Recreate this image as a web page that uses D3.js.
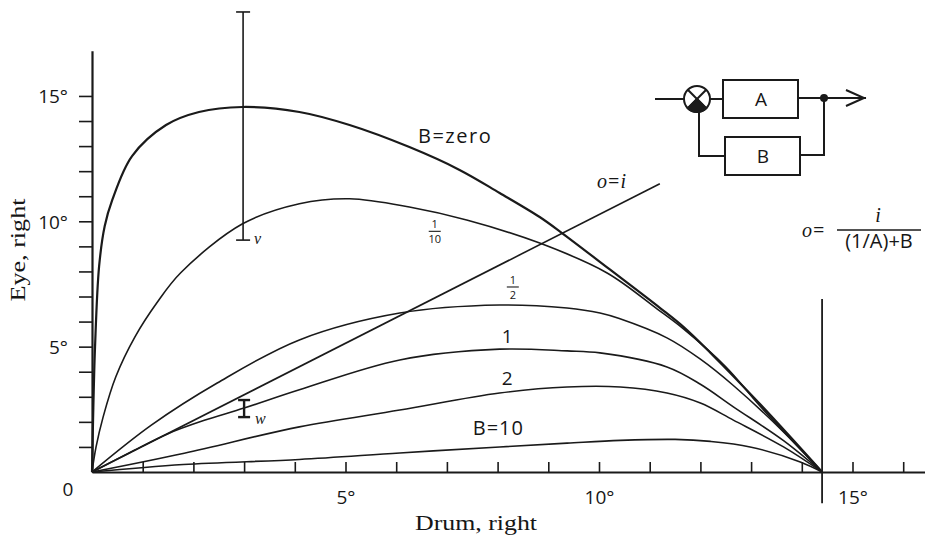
<!DOCTYPE html>
<html>
<head>
<meta charset="utf-8">
<script src="https://cdn.jsdelivr.net/npm/d3@7/dist/d3.min.js"></script>
<style>
  body { margin: 0; background: #fff; }
  text { fill: #161616; }
</style>
</head>
<body>
<div id="chart"></div>
<script>
// curves, [drum deg, eye deg]
const bZero = [[0,0],[0.02,2],[0.06,5],[0.14,8.2],[0.25,9.8],[0.4,10.85],[0.79,12.6],[1.46,13.84],[2.11,14.36],[2.97,14.56],[4.09,14.36],[5.08,13.84],[6.26,12.96],[7.25,12.05],[8.04,11.13],[8.83,10.17],[9.27,9.53],[10.2,8.1],[11.2,6.55],[11.66,5.8],[12.2,4.75],[13.18,2.7],[14.4,0]];
const bTenth = [[0,0],[0.08,1.0],[0.22,2.2],[0.47,3.8],[0.85,5.4],[1.28,6.75],[1.75,7.95],[2.97,9.9],[4.09,10.7],[5.08,10.9],[6.26,10.57],[7.39,10.05],[8.83,9.13],[10.16,7.94],[11.15,6.5],[11.66,5.72],[12.5,4.2],[13.18,2.62],[14.4,0]];
const bHalf = [[0,0],[1.17,1.87],[2.47,3.55],[4.09,5.27],[6.07,6.34],[8.04,6.66],[9.37,6.54],[10.02,6.34],[10.4,6.12],[11.34,5.35],[12.0,4.5],[12.65,3.45],[13.64,1.6],[14.4,0]];
const bOne = [[0,0],[0.75,0.78],[1.5,1.53],[2.2,2.05],[3.0,2.55],[4.09,3.28],[6.07,4.47],[8.04,4.9],[9.37,4.83],[10.02,4.75],[11.34,4.19],[12.0,3.5],[12.65,2.6],[13.64,1.25],[14.4,0]];
const bTwo = [[0,0],[1.82,0.75],[4.09,1.8],[6.07,2.47],[8.04,3.15],[9.37,3.39],[10.42,3.39],[11.34,3.15],[12.0,2.75],[12.65,2.07],[13.64,1.0],[14.4,0]];
const bTen = [[0,0],[1.8,0.3],[4.09,0.5],[6.07,0.76],[8.04,1.0],[9.37,1.15],[10.42,1.26],[11.5,1.3],[12.2,1.22],[12.98,1.0],[13.97,0.4],[14.4,0]];
const identity = [[0,0],[11.2,11.5]];   // o = i

// error bars at drum 3 deg: [x, low, high]
const errV = [2.98, 9.25, 18.35];
const errW = [3.0, 2.19, 2.87];

// vertical marker where all curves end
const endMark = [14.4, -1.25, 6.9];

const xTicks = d3.range(1, 17);
const yTicks = d3.range(1, 16);
const labelledTicks = [5, 10, 15];

const W = 925, H = 539;

const svg = d3.select('#chart').append('svg')
  .attr('width', W)
  .attr('height', H)
  .style('font-family', '"Open Sans", sans-serif');

/* Scale */
const x = d3.scaleLinear().domain([0, 16.5]).range([92, 92 + 16.5 * 50.7]);
const y = d3.scaleLinear().domain([0, 16.8]).range([472, 472 - 16.8 * 25.07]);

const ink = '#1a1a1a';
const serif = '"Liberation Serif", serif';
const fmt = d => labelledTicks.includes(d) ? d + '°' : '';

/* Axes */
const xAxis = d3.axisBottom(x).tickValues(xTicks).tickSizeInner(-10).tickSizeOuter(0)
  .tickPadding(19).tickFormat(fmt);
const yAxis = d3.axisLeft(y).tickValues(yTicks).tickSizeInner(13).tickSizeOuter(0)
  .tickPadding(11).tickFormat(fmt);

const gx = svg.append('g')
  .attr('transform', `translate(0, ${y(0)})`)
  .call(xAxis);
const gy = svg.append('g')
  .attr('transform', `translate(${x(0)}, 0)`)
  .call(yAxis);

[gx, gy].forEach(g => {
  g.select('.domain').attr('stroke', ink).attr('stroke-width', 2.2);
  g.selectAll('.tick line').attr('stroke', ink).attr('stroke-width', 1.6);
  g.selectAll('.tick text').style('font-size', '19px').style('font-family', '"Open Sans", sans-serif')
    .attr('fill', '#161616');
});
gy.selectAll('.tick text').attr('dy', '0.36em');

svg.append('text')
  .attr('x', 68).attr('y', 496)
  .attr('text-anchor', 'middle')
  .style('font-size', '19px')
  .text('0');

// axis titles
svg.append('text')
  .attr('x', 476).attr('y', 530)
  .attr('text-anchor', 'middle')
  .attr('textLength', 122)
  .attr('lengthAdjust', 'spacingAndGlyphs')
  .style('font-family', serif)
  .style('font-size', '21px')
  .text('Drum, right');

svg.append('text')
  .attr('transform', 'translate(25, 250) rotate(-90)')
  .attr('text-anchor', 'middle')
  .attr('textLength', 103)
  .attr('lengthAdjust', 'spacingAndGlyphs')
  .style('font-family', serif)
  .style('font-size', '21px')
  .text('Eye, right');

/* Lines */
const line = d3.line()
  .x(d => x(d[0]))
  .y(d => y(d[1]))
  .curve(d3.curveCatmullRom.alpha(0.5));

const curves = [
  { values: bZero, w: 2.2 },
  { values: bTenth, w: 1.6 },
  { values: bHalf, w: 1.6 },
  { values: bOne, w: 1.6 },
  { values: bTwo, w: 1.6 },
  { values: bTen, w: 1.6 },
  { values: identity, w: 1.6 }
];

svg.append('g').attr('class', 'lines')
  .selectAll('path')
  .data(curves).enter()
  .append('path')
  .attr('fill', 'none')
  .attr('stroke', ink)
  .attr('stroke-width', d => d.w)
  .attr('stroke-linejoin', 'round')
  .attr('d', d => line(d.values));

svg.append('line')
  .attr('x1', x(endMark[0])).attr('x2', x(endMark[0]))
  .attr('y1', y(endMark[1])).attr('y2', y(endMark[2]))
  .attr('stroke', ink).attr('stroke-width', 1.8);

/* Error bars */
function errBar(e, cap, sw, name, dy) {
  const g = svg.append('g').attr('stroke', ink).attr('stroke-width', sw);
  g.append('line').attr('x1', x(e[0])).attr('x2', x(e[0])).attr('y1', y(e[1])).attr('y2', y(e[2]));
  g.append('line').attr('x1', x(e[0]) - cap).attr('x2', x(e[0]) + cap).attr('y1', y(e[1])).attr('y2', y(e[1]));
  g.append('line').attr('x1', x(e[0]) - cap).attr('x2', x(e[0]) + cap).attr('y1', y(e[2])).attr('y2', y(e[2]));
  svg.append('text')
    .attr('x', x(e[0]) + 11).attr('y', y(e[1]) + dy)
    .style('font-family', serif)
    .style('font-style', 'italic')
    .style('font-size', '16px')
    .text(name);
}
errBar(errV, 7, 1.6, 'v', 4);
errBar(errW, 6, 2.4, 'w', 7);

/* Curve labels */
function label(dx, dy, t, opts = {}) {
  return svg.append('text')
    .attr('x', x(dx)).attr('y', y(dy))
    .attr('text-anchor', opts.anchor || 'start')
    .style('font-size', (opts.size || 19) + 'px')
    .text(t);
}
label(6.43, 13.12, 'B=zero', { size: 20 }).style('letter-spacing', '1.5px');
label(8.19, 5.15, '1', { anchor: 'middle' });
label(8.19, 3.47, '2', { anchor: 'middle' });
label(7.51, 1.48, 'B=10', { size: 20 }).style('letter-spacing', '1px');

function frac(cx, cy, num, den) {
  const g = svg.append('g').attr('transform', `translate(${x(cx)}, ${y(cy)})`);
  g.append('text').attr('y', -3).attr('text-anchor', 'middle').style('font-size', '11px').text(num);
  g.append('line').attr('x1', -6).attr('x2', 6).attr('stroke', ink).attr('stroke-width', 1.1);
  g.append('text').attr('y', 12).attr('text-anchor', 'middle').style('font-size', '11px').text(den);
}
frac(6.76, 9.6, '1', '10');
frac(8.3, 7.38, '1', '2');

const oi = svg.append('text')
  .attr('x', x(9.96)).attr('y', y(11.33))
  .style('font-size', '20px');
oi.append('tspan').style('font-family', serif).style('font-style', 'italic').text('o');
oi.append('tspan').attr('dx', 1).text('=');
oi.append('tspan').attr('dx', 1).style('font-family', serif).style('font-style', 'italic').text('i');

/* Formula */
const fo = svg.append('text').attr('x', 802).attr('y', 237).style('font-size', '20px');
fo.append('tspan').style('font-family', serif).style('font-style', 'italic').text('o');
fo.append('tspan').attr('dx', 1).text('=');
svg.append('text').attr('x', 878).attr('y', 222).attr('text-anchor', 'middle')
  .style('font-family', serif).style('font-style', 'italic').style('font-size', '20px').text('i');
svg.append('line').attr('x1', 837).attr('x2', 921).attr('y1', 230).attr('y2', 230)
  .attr('stroke', ink).attr('stroke-width', 1.4);
svg.append('text').attr('x', 879).attr('y', 248).attr('text-anchor', 'middle')
  .style('font-size', '20px').text('(1/A)+B');

/* Block diagram */
const bd = svg.append('g').attr('stroke', ink).attr('stroke-width', 2).attr('fill', 'none');
bd.append('line').attr('x1', 655).attr('y1', 99).attr('x2', 684).attr('y2', 99);
bd.append('circle').attr('cx', 697).attr('cy', 99).attr('r', 13);
const r45 = 13 * Math.SQRT1_2;
bd.append('line').attr('x1', 697 - r45).attr('y1', 99 - r45).attr('x2', 697 + r45).attr('y2', 99 + r45);
bd.append('line').attr('x1', 697 + r45).attr('y1', 99 - r45).attr('x2', 697 - r45).attr('y2', 99 + r45);
bd.append('path')
  .attr('d', `M697,99 L${697 - r45},${99 + r45} A13,13 0 0,0 ${697 + r45},${99 + r45} Z`)
  .attr('fill', ink);
bd.append('line').attr('x1', 710).attr('y1', 99).attr('x2', 723).attr('y2', 99);
bd.append('rect').attr('x', 723).attr('y', 80).attr('width', 75).attr('height', 38);
bd.append('line').attr('x1', 798).attr('y1', 98).attr('x2', 866).attr('y2', 98);
bd.append('path').attr('d', 'M846,90 L864,98 L846,106');
bd.append('circle').attr('cx', 824).attr('cy', 98).attr('r', 3).attr('fill', ink);
bd.append('path').attr('d', 'M824,98 V155 H800');
bd.append('rect').attr('x', 725).attr('y', 137).attr('width', 75).attr('height', 38);
bd.append('path').attr('d', 'M725,156 H699 V112');

svg.append('text').attr('x', 761).attr('y', 106).attr('text-anchor', 'middle').style('font-size', '19px').text('A');
svg.append('text').attr('x', 763).attr('y', 163).attr('text-anchor', 'middle').style('font-size', '19px').text('B');
</script>
</body>
</html>
